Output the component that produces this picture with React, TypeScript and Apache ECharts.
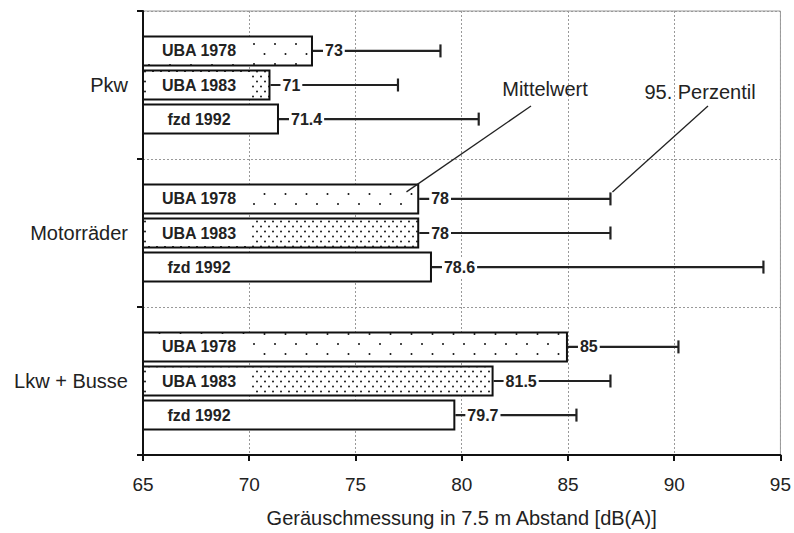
import React, { useEffect, useRef } from "react";
import * as echarts from "echarts";

const categories = ["Pkw", "Motorräder", "Lkw + Busse"];
const seriesNames = ["UBA 1978", "UBA 1983", "fzd 1992"];
const uba1978Mean = [73, 78, 85];
const uba1983Mean = [71, 78, 81.5];
const fzd1992Mean = [71.4, 78.6, 79.7];
const uba1978P95 = [79, 87, 90.2];
const uba1983P95 = [77, 87, 87];
const fzd1992P95 = [80.8, 94.2, 85.4];
const xMin = 65;
const xMax = 95;
const xStep = 5;
const xTitle = "Geräuschmessung in 7.5 m Abstand [dB(A)]";

const FONT = "'Liberation Sans', Arial, sans-serif";
const BAR_W = 31;
const BAR_GAP = 0.1;

function makePattern(w: number, h: number, dots: number[][], r: number) {
  const c = document.createElement("canvas");
  c.width = w;
  c.height = h;
  const ctx = c.getContext("2d")!;
  ctx.fillStyle = "#fff";
  ctx.fillRect(0, 0, w, h);
  ctx.fillStyle = "#111";
  dots.forEach(([x, y]) => {
    ctx.beginPath();
    ctx.arc(x, y, r, 0, Math.PI * 2);
    ctx.fill();
  });
  return { image: c, repeat: "repeat", imageWidth: w, imageHeight: h } as any;
}

export default function App() {
  const ref = useRef<HTMLDivElement>(null);
  useEffect(() => {
    if (!ref.current) return;
    const chart = echarts.init(ref.current, null, { renderer: "svg", width: 794, height: 533 });
    const sparse = makePattern(21, 20, [[2, 4], [12.5, 14]], 1.0);
    const dense = makePattern(8, 10, [[1, 1.5], [5, 6.5]], 0.95);
    const fills = [sparse, dense, "#fff"];
    const means = [uba1978Mean, uba1983Mean, fzd1992Mean];
    const p95s = [uba1978P95, uba1983P95, fzd1992P95];
    const axisLine = { color: "#111", width: 2 };
    const grid = { color: "#999", width: 1, type: [2, 2] as any };

    const barSeries = seriesNames.map((name, si) => ({
      type: "bar",
      name,
      data: means[si],
      barWidth: BAR_W,
      barGap: BAR_GAP * 100 + "%",
      itemStyle: { color: fills[si], borderColor: "#111", borderWidth: 2 },
      label: {
        show: true,
        position: "insideLeft",
        distance: 5,
        formatter: "{t|{a}}",
        backgroundColor: "#fff",
        padding: [5, 3],
        rich: {
          t: {
            width: 98,
            align: "center",
            fontSize: 16,
            fontWeight: "bold",
            color: "#222",
            fontFamily: FONT,
            lineHeight: 16,
          },
        },
      },
      z: 2,
    }));

    const errData: number[][] = [];
    seriesNames.forEach((_, si) => {
      categories.forEach((__, ci) => {
        errData.push([ci, si, means[si][ci], p95s[si][ci]]);
      });
    });

    const errSeries = {
      type: "custom",
      z: 5,
      data: errData,
      encode: { x: [2, 3], y: 0 },
      renderItem: (params: any, api: any) => {
        const ci = api.value(0);
        const si = api.value(1);
        const mean = api.value(2);
        const p95 = api.value(3);
        const off = (si - 1) * (BAR_W * (1 + BAR_GAP));
        const a = api.coord([mean, ci]);
        const b = api.coord([p95, ci]);
        const y = a[1] + off;
        return {
          type: "group",
          children: [
            {
              type: "line",
              shape: { x1: a[0], y1: y, x2: b[0], y2: y },
              style: { stroke: "#222", lineWidth: 2.2 },
            },
            {
              type: "line",
              shape: { x1: b[0], y1: y - 6.5, x2: b[0], y2: y + 6.5 },
              style: { stroke: "#222", lineWidth: 2.2 },
            },
            {
              type: "text",
              x: a[0] + 10,
              y: y,
              style: {
                text: String(mean),
                fill: "#222",
                fontSize: 16,
                fontWeight: "bold",
                fontFamily: FONT,
                verticalAlign: "middle",
                align: "left",
                backgroundColor: "#fff",
                padding: [2, 2],
              },
            },
          ],
        };
      },
    };

    chart.setOption({
      animation: false,
      backgroundColor: "#fff",
      textStyle: { fontFamily: FONT },
      grid: { left: 143, right: 13, top: 11, bottom: 75, show: true, borderColor: "#999", borderWidth: 1 },
      xAxis: {
        type: "value",
        min: xMin,
        max: xMax,
        interval: xStep,
        name: xTitle,
        nameLocation: "middle",
        nameGap: 53,
        nameTextStyle: { fontSize: 20, color: "#222", fontFamily: FONT },
        axisLine: { show: true, onZero: false, lineStyle: axisLine },
        axisTick: { show: true, length: 6, lineStyle: axisLine },
        axisLabel: { fontSize: 19, color: "#222", margin: 20, fontFamily: FONT },
        splitLine: { show: true, lineStyle: grid },
      },
      yAxis: {
        type: "category",
        data: categories,
        inverse: true,
        axisLine: { show: true, onZero: false, lineStyle: axisLine },
        axisTick: { show: true, length: 6, lineStyle: axisLine },
        axisLabel: { fontSize: 20, color: "#222", margin: 15, fontFamily: FONT },
        splitLine: { show: true, lineStyle: grid },
      },
      series: [...barSeries, errSeries],
    });

    const off0 = -BAR_W * (1 + BAR_GAP);
    const m = chart.convertToPixel({ gridIndex: 0 }, [77.4, 1]) as number[];
    const p = chart.convertToPixel({ gridIndex: 0 }, [uba1978P95[1], 1]) as number[];
    const textStyle = { fill: "#222", fontSize: 20, fontFamily: FONT, align: "center", verticalAlign: "middle" };
    chart.setOption({
      graphic: [
        { type: "text", x: 545, y: 89, style: { ...textStyle, text: "Mittelwert" }, z: 10 },
        { type: "text", x: 700, y: 92, style: { ...textStyle, text: "95. Perzentil" }, z: 10 },
        {
          type: "line",
          shape: { x1: 531, y1: 106, x2: m[0], y2: m[1] + off0 - 7 },
          style: { stroke: "#222", lineWidth: 1.3 },
          z: 10,
        },
        {
          type: "line",
          shape: { x1: 708, y1: 106, x2: p[0] + 2, y2: p[1] + off0 - 7 },
          style: { stroke: "#222", lineWidth: 1.3 },
          z: 10,
        },
      ],
    });
    return () => chart.dispose();
  }, []);
  return <div ref={ref} style={{ position: "fixed", left: 0, top: 0, width: 794, height: 533 }} />;
}
